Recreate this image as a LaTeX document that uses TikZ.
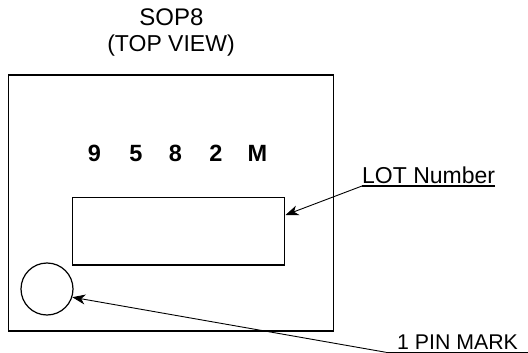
\documentclass[tikz,border=0pt]{standalone}
\usepackage{fontspec}
\setmainfont{Liberation Sans}
\usetikzlibrary{arrows.meta}

\begin{document}
\begin{tikzpicture}[x=1pt,y=-1pt,every node/.style={inner sep=0pt,font=\fontsize{23}{27}\selectfont},
    digit/.style={anchor=base,font=\fontsize{23.5}{27}\selectfont\bfseries},
    box/.style={draw,line width=1.3pt},
    lead/.style={line width=0.9pt,-{Stealth[length=13pt,width=10pt,inset=4pt]}}]
  \useasboundingbox (0,0) rectangle (528,353);
  \node[anchor=base,font=\fontsize{24}{27}\selectfont] (title) at (171.5,25.5) {SOP8};
  \node[anchor=base] (view) at (171,52) {(TOP VIEW)};
  % package outline, marking area and pin mark
  \node[box,minimum width=325pt,minimum height=256pt] (pkg) at (171,203) {};
  \node[box,minimum width=212pt,minimum height=67.5pt] (lotbox) at (178.5,231.25) {};
  \node[box,circle,line width=1.2pt,minimum size=52pt] (pin) at (47,289) {};
  \foreach \d/\x in {9/94.5,5/136,8/175.5,2/216,M/257.5}
    \node[digit] (d\d) at (\x,161) {\d};
  % leaders
  \node[anchor=base west] (lot) at (362,183) {LOT Number};
  \coordinate (lotl) at (362,186);
  \coordinate (lotr) at (495,186);
  \coordinate (lottip) at (285.5,215);
  \draw[line width=1.3pt] (lotr) -- (lotl);
  \draw[lead] (lotl) -- (lottip);
  \node[anchor=base west,font=\fontsize{21.3}{25}\selectfont] (pinlbl) at (397,349.5) {1 PIN MARK};
  \coordinate (pinl) at (386,352.3);
  \coordinate (pinr) at (528,352.3);
  \draw[line width=1pt] (pinr) -- (pinl);
  \draw[lead] (pinl) -- (pin.-18);
\end{tikzpicture}
\end{document}
